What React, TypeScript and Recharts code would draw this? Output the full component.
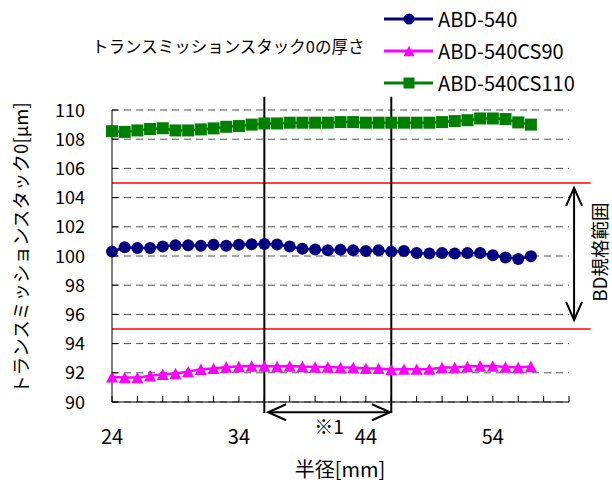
import { LineChart, Line, XAxis, YAxis, CartesianGrid, ReferenceLine } from "recharts";

const FONT = '"Noto Sans CJK JP", "Liberation Sans", sans-serif';

// 半径 [mm]
const radius = [
  24, 25, 26, 27, 28, 29, 30, 31, 32, 33, 34, 35, 36, 37, 38, 39, 40,
  41, 42, 43, 44, 45, 46, 47, 48, 49, 50, 51, 52, 53, 54, 55, 56, 57,
];

const abd540 = [
  100.3, 100.6, 100.55, 100.55, 100.65, 100.74, 100.74, 100.7, 100.77, 100.7, 100.77, 100.8,
  100.82, 100.79, 100.65, 100.5, 100.45, 100.4, 100.43, 100.4, 100.35, 100.4, 100.3, 100.35,
  100.2, 100.17, 100.2, 100.17, 100.2, 100.2, 100.05, 99.9, 99.8, 99.98,
];

const abd540cs90 = [
  91.72, 91.67, 91.67, 91.8, 91.9, 91.95, 92.08, 92.24, 92.3, 92.4, 92.43, 92.47,
  92.47, 92.43, 92.47, 92.43, 92.4, 92.4, 92.36, 92.36, 92.3, 92.3, 92.22, 92.25,
  92.25, 92.25, 92.36, 92.36, 92.43, 92.47, 92.47, 92.4, 92.36, 92.43,
];

const abd540cs110 = [
  108.55, 108.5, 108.6, 108.7, 108.75, 108.6, 108.6, 108.67, 108.74, 108.85, 108.9, 109.0,
  109.08, 109.08, 109.13, 109.13, 109.13, 109.13, 109.17, 109.17, 109.13, 109.13, 109.13, 109.13,
  109.13, 109.13, 109.17, 109.24, 109.3, 109.42, 109.42, 109.38, 109.15, 109.0,
];

const xTicks = [24, 26, 28, 30, 32, 34, 36, 38, 40, 42, 44, 46, 48, 50, 52, 54, 56, 58, 60];
const xLabels = [24, 34, 44, 54];
const yTicks = [90, 92, 94, 96, 98, 100, 102, 104, 106, 108, 110];

// BD規格 上限・下限
const specLimits = [105, 95];
// ※1 の範囲
const zoneEdges = [36, 46];

const series = [
  { key: "a", name: "ABD-540", color: "#000080", marker: "circle" },
  { key: "b", name: "ABD-540CS90", color: "#FF00FF", marker: "triangle" },
  { key: "c", name: "ABD-540CS110", color: "#008000", marker: "square" },
];

const data = radius.map((r, i) => ({
  r,
  a: abd540[i],
  b: abd540cs90[i],
  c: abd540cs110[i],
}));

const Marker = ({ cx, cy, kind, color, size }: any) => {
  if (cx == null || cy == null) return null;
  if (kind === "circle") {
    return <circle cx={cx} cy={cy} r={size / 2} fill={color} />;
  }
  if (kind === "triangle") {
    const h = size * 0.95;
    return (
      <polygon
        points={`${cx},${cy - h / 2} ${cx - size / 2},${cy + h / 2} ${cx + size / 2},${cy + h / 2}`}
        fill={color}
      />
    );
  }
  return <rect x={cx - size / 2} y={cy - size / 2} width={size} height={size} fill={color} />;
};

const XTick = ({ x, y, payload }: any) => (
  <g>
    <line x1={x} y1={y} x2={x} y2={y - 6} stroke="#000" strokeWidth={1} />
    {xLabels.includes(payload.value) && (
      <text x={x} y={y + 42} textAnchor="middle" fontSize={20} fontFamily={FONT} fill="#000">
        {payload.value}
      </text>
    )}
  </g>
);

const YTick = ({ x, y, payload }: any) => (
  <g>
    <line x1={x} y1={y} x2={x + 6} y2={y} stroke="#000" strokeWidth={1} />
    <text x={x - 27} y={y + 6.5} textAnchor="end" fontSize={18} fontFamily={FONT} fill="#000">
      {payload.value}
    </text>
  </g>
);

// 両矢印
const DoubleArrow = ({ x1, y1, x2, y2 }: any) => {
  const dx = x2 - x1;
  const dy = y2 - y1;
  const len = Math.sqrt(dx * dx + dy * dy) || 1;
  const ux = dx / len;
  const uy = dy / len;
  const L = 18;
  const W = 8;
  const head = (tx: number, ty: number, sx: number, sy: number) =>
    `${tx + sx * L - sy * W},${ty + sy * L + sx * W} ${tx},${ty} ${tx + sx * L + sy * W},${ty + sy * L - sx * W}`;
  return (
    <g>
      <line x1={x1} y1={y1} x2={x2} y2={y2} stroke="#000" strokeWidth={2} />
      <polyline points={head(x1, y1, ux, uy)} fill="none" stroke="#000" strokeWidth={2} />
      <polyline points={head(x2, y2, -ux, -uy)} fill="none" stroke="#000" strokeWidth={2} />
    </g>
  );
};

const LegendBlock = () => (
  <g>
    {series.map((s, i) => {
      const cy = 19 + i * 32;
      return (
        <g key={s.key}>
          <line x1={384} y1={cy} x2={433} y2={cy} stroke={s.color} strokeWidth={3} />
          <Marker cx={409} cy={cy} kind={s.marker} color={s.color} size={11} />
          <text x={438} y={cy + 7.5} fontSize={20} fontFamily={FONT} fill="#000">
            {s.name}
          </text>
        </g>
      );
    })}
  </g>
);

const App = () => {
  return (
    <div style={{ position: "absolute", left: 0, top: 0, width: 612, height: 485, background: "#fff" }}>
      <LineChart width={612} height={485} data={data} margin={{ top: 110, right: 43, bottom: 53, left: 52 }}>
        <CartesianGrid vertical={false} stroke="#555" strokeDasharray="7 5" />
        <XAxis
          dataKey="r"
          type="number"
          domain={[24, 60]}
          ticks={xTicks}
          interval={0}
          height={30}
          tickSize={0}
          tickMargin={0}
          tickLine={false}
          tick={<XTick />}
          axisLine={{ stroke: "#000" }}
        />
        <YAxis
          type="number"
          domain={[90, 110]}
          ticks={yTicks}
          interval={0}
          width={60}
          tickSize={0}
          tickMargin={0}
          tickLine={false}
          tick={<YTick />}
          axisLine={{ stroke: "#000" }}
        />
        {specLimits.map((v) => (
          <ReferenceLine
            key={`spec-${v}`}
            segment={[
              { x: 24, y: v },
              { x: 61.7, y: v },
            ]}
            stroke="#FF0000"
            strokeWidth={1.5}
            ifOverflow="visible"
          />
        ))}
        {zoneEdges.map((v) => (
          <ReferenceLine
            key={`zone-${v}`}
            segment={[
              { x: v, y: 89.25 },
              { x: v, y: 110.9 },
            ]}
            stroke="#000"
            strokeWidth={2}
            ifOverflow="visible"
          />
        ))}
        <ReferenceLine
          segment={[
            { x: 36.3, y: 89.3 },
            { x: 45.9, y: 89.3 },
          ]}
          ifOverflow="visible"
          shape={DoubleArrow}
        />
        <ReferenceLine
          segment={[
            { x: 60.4, y: 104.66 },
            { x: 60.4, y: 95.62 },
          ]}
          ifOverflow="visible"
          shape={DoubleArrow}
        />
        {series.map((s) => (
          <Line
            key={s.key}
            dataKey={s.key}
            name={s.name}
            stroke={s.color}
            strokeWidth={2.5}
            isAnimationActive={false}
            dot={(p: any) => (
              <Marker key={`${s.key}-${p.index}`} cx={p.cx} cy={p.cy} kind={s.marker} color={s.color} size={12} />
            )}
            activeDot={false}
          />
        ))}

        {/* タイトル・軸ラベル */}
        <text x={92} y={53} fontSize={16.5} fontFamily={FONT} fill="#000">
          トランスミッションスタック0の厚さ
        </text>
        <text
          x={20}
          y={248}
          textAnchor="middle"
          dominantBaseline="central"
          transform="rotate(-90, 20, 248)"
          fontSize={18.5}
          fontFamily={FONT}
          fill="#000"
        >
          トランスミッションスタック0[μm]
        </text>
        <text x={340} y={477} textAnchor="middle" fontSize={20} fontFamily={FONT} fill="#000">
          半径[mm]
        </text>
        <text
          x={599}
          y={252}
          textAnchor="middle"
          dominantBaseline="central"
          transform="rotate(-90, 599, 252)"
          fontSize={18.5}
          fontFamily={FONT}
          fill="#000"
        >
          BD規格範囲
        </text>
        <text x={329} y={434} textAnchor="middle" fontSize={19} fontFamily={FONT} fill="#000">
          ※1
        </text>
        <LegendBlock />
      </LineChart>
    </div>
  );
};

export default App;
